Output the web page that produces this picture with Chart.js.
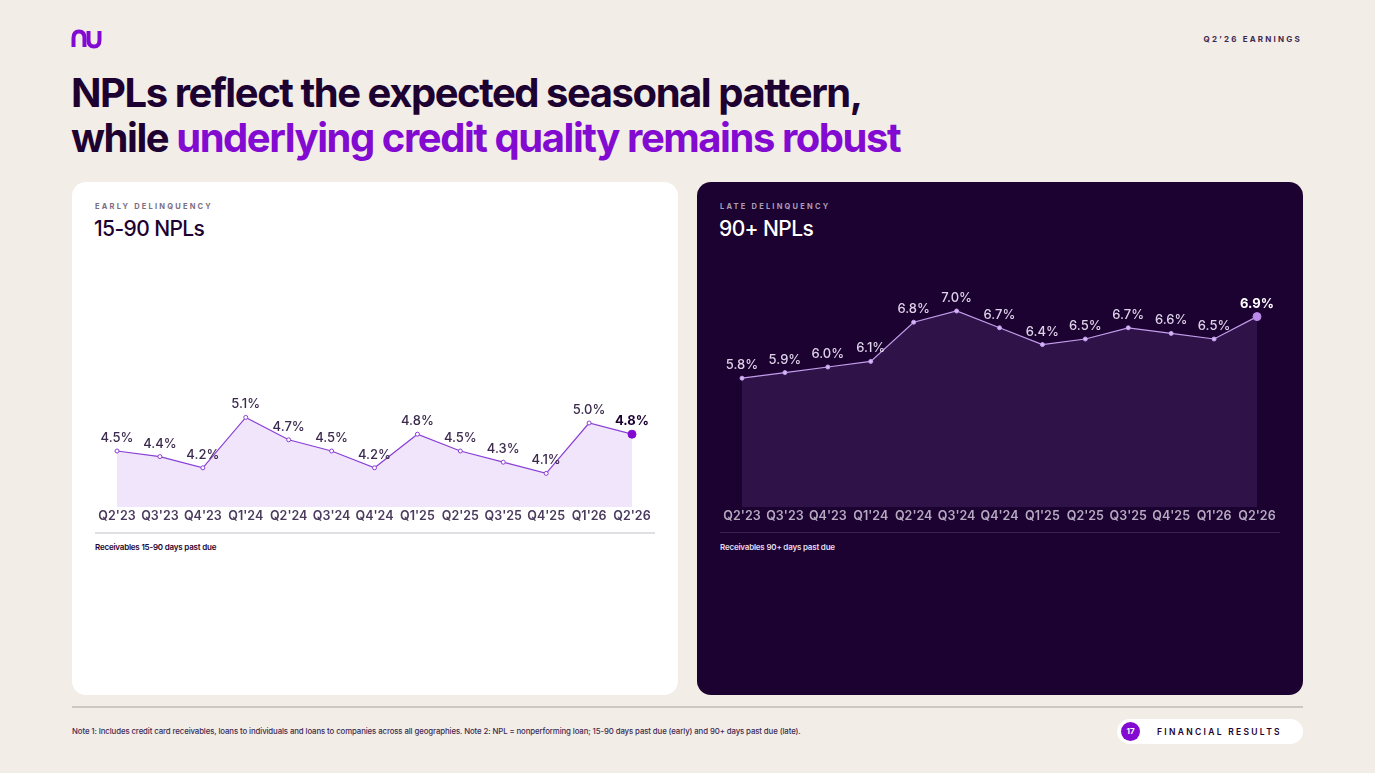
<!DOCTYPE html>
<html>
<head>
<meta charset="utf-8">
<script src="https://cdn.jsdelivr.net/npm/chart.js@4"></script>
<style>
  html, body { margin:0; padding:0; }
  body { width:1375px; height:773px; background:#f2ede6; position:relative; overflow:hidden; font-family: Inter, "Noto Sans", sans-serif; color:#1d0231; }
  .abs { position:absolute; }
  .logo { left:71px; top:29px; }
  .earn { right:73px; top:34px; font-size:8px; font-weight:700; letter-spacing:2.2px; color:#3d2a52; }
  .title { left:71px; top:70px; font-size:40px; font-weight:700; line-height:45px; letter-spacing:-1.45px; white-space:nowrap; }
  .title span { color:#820ad1; }
  .card { top:182px; width:606px; height:513px; border-radius:14px; }
  .card.left { left:72px; background:#ffffff; }
  .card.right { left:697px; background:#1c0230; }
  .kick { font-size:7.5px; font-weight:700; letter-spacing:2.2px; top:20px; left:23px; }
  .head { font-size:21px; font-weight:500; letter-spacing:-0.6px; top:34px; left:22px; }
  .sep { left:23px; width:560px; top:350px; height:2px; }
  .src { left:23px; top:360px; font-size:8px; font-weight:600; letter-spacing:-0.2px; }
  canvas { position:absolute; }
  .foot { left:72px; top:706px; width:1231px; height:2px; background:#cdc8c6; }
  .note { left:72px; top:726px; font-size:7.8px; font-weight:500; color:#3d2a52; letter-spacing:-0.1px; white-space:nowrap; }
  .pill { left:1117px; top:719px; width:186px; height:25px; background:#fff; border-radius:13px; }
  .num { left:4px; top:3px; width:19px; height:19px; border-radius:50%; background:#820ad1; color:#fff; font-size:8px; font-weight:700; text-align:center; line-height:19px; }
  .fin { left:40px; top:8px; font-size:8.5px; font-weight:600; letter-spacing:2.3px; color:#1d0231; }
</style>
</head>
<body>
<svg class="abs logo" width="32" height="20" viewBox="0 0 32 20">
  <path d="M2.5 18 V9 Q2.5 2.5 8 2.5 Q13.5 2.5 13.5 9 V18" fill="none" stroke="#820ad1" stroke-width="4"/>
  <path d="M17.5 2 V11 Q17.5 17.5 23 17.5 Q28.5 17.5 28.5 11 V2" fill="none" stroke="#820ad1" stroke-width="4"/>
</svg>
<div class="abs earn">Q2’26 EARNINGS</div>
<div class="abs title">NPLs reflect the expected seasonal pattern,<br>while <span>underlying credit quality remains robust</span></div>

<div class="abs card left">
  <div class="abs kick" style="color:#7a6e82">EARLY DELINQUENCY</div>
  <div class="abs head" style="color:#1d0231">15-90 NPLs</div>
  <div class="abs sep" style="background:#e1dee4"></div>
  <div class="abs src" style="color:#1d0231">Receivables 15-90 days past due</div>
</div>
<div class="abs card right">
  <div class="abs kick" style="color:#a99cb5">LATE DELINQUENCY</div>
  <div class="abs head" style="color:#ffffff">90+ NPLs</div>
  <div class="abs sep" style="background:#3a2150;height:1px"></div>
  <div class="abs src" style="color:#e6def0">Receivables 90+ days past due</div>
</div>

<canvas id="early" style="left:90px;top:236px;width:570px;height:290px"></canvas>
<canvas id="late" style="left:715px;top:236px;width:570px;height:290px"></canvas>

<div class="abs foot"></div>
<div class="abs note">Note 1: Includes credit card receivables, loans to individuals and loans to companies across all geographies. Note 2: NPL = nonperforming loan; 15-90 days past due (early) and 90+ days past due (late).</div>
<div class="abs pill"><div class="abs num">17</div><div class="abs fin">FINANCIAL RESULTS</div></div>

<script>
const quarters = ["Q2'23","Q3'23","Q4'23","Q1'24","Q2'24","Q3'24","Q4'24","Q1'25","Q2'25","Q3'25","Q4'25","Q1'26","Q2'26"];
const earlyNpl = [4.5, 4.4, 4.2, 5.1, 4.7, 4.5, 4.2, 4.8, 4.5, 4.3, 4.1, 5.0, 4.8];
const lateNpl  = [5.8, 5.9, 6.0, 6.1, 6.8, 7.0, 6.7, 6.4, 6.5, 6.7, 6.6, 6.5, 6.9];
const yMin = 3.5, yMax = 8;

const valueLabels = {
  id: 'valueLabels',
  afterDatasetsDraw(chart, args, opts) {
    const ctx = chart.ctx;
    const meta = chart.getDatasetMeta(0);
    const data = chart.data.datasets[0].data;
    ctx.save();
    ctx.textAlign = 'center';
    ctx.textBaseline = 'middle';
    meta.data.forEach((pt, i) => {
      const last = i === data.length - 1;
      ctx.font = (last ? '700 ' : '500 ') + '13px Inter, sans-serif';
      ctx.fillStyle = last ? opts.lastColor : opts.color;
      ctx.fillText(data[i].toFixed(1) + '%', pt.x, pt.y - 13);
    });
    ctx.restore();
  }
};

function npChart(id, values, c) {
  const n = values.length;
  return new Chart(document.getElementById(id), {
    type: 'line',
    data: {
      labels: quarters,
      datasets: [{
        data: values,
        borderColor: c.line,
        borderWidth: 1.2,
        backgroundColor: c.fill,
        fill: 'origin',
        tension: 0,
        pointRadius: values.map((v, i) => i === n - 1 ? 4 : 2),
        pointBackgroundColor: values.map((v, i) => i === n - 1 ? c.lastPoint : c.pointFill),
        pointBorderColor: values.map((v, i) => i === n - 1 ? c.lastPoint : c.line),
        pointBorderWidth: 1
      }]
    },
    options: {
      responsive: false,
      animation: false,
      layout: { padding: { left: 27, right: 28, top: 19, bottom: 0 } },
      plugins: {
        legend: { display: false },
        tooltip: { enabled: false },
        valueLabels: { color: c.label, lastColor: c.lastLabel }
      },
      scales: {
        x: {
          offset: false,
          grid: { display: false, drawTicks: false },
          border: { display: false },
          ticks: { color: c.tick, font: { family: 'Inter', size: 12.5, weight: '600' }, padding: 2, autoSkip: false, maxRotation: 0 }
        },
        y: {
          display: false,
          min: yMin,
          max: yMax
        }
      }
    },
    plugins: [valueLabels]
  });
}

function sizeCanvas(id) {
  const el = document.getElementById(id);
  el.width = 570; el.height = 290;
}
sizeCanvas('early'); sizeCanvas('late');

npChart('early', earlyNpl, {
  line: '#8a3fd5', fill: '#f0e5fa', pointFill: '#ffffff', lastPoint: '#820ad1',
  label: '#3b2a4d', lastLabel: '#1d0231', tick: '#4a3a5c'
});
npChart('late', lateNpl, {
  line: '#c49ded', fill: '#2f1348', pointFill: '#d6b8f4', lastPoint: '#b98ae8',
  label: '#ddd2e8', lastLabel: '#ffffff', tick: '#b5aac0'
});
</script>
</body>
</html>
